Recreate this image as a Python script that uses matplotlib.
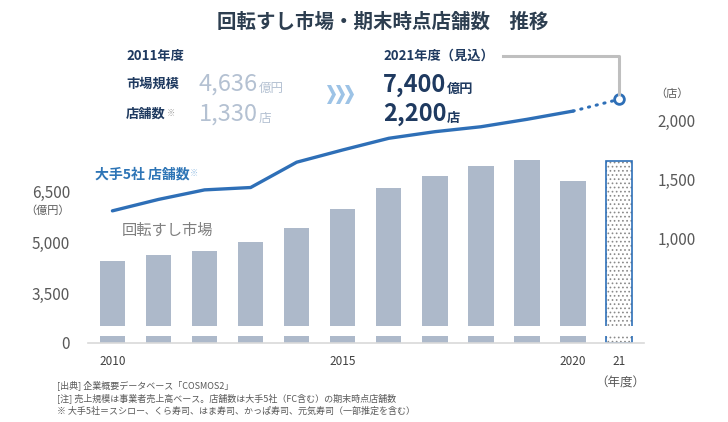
import numpy as np
import matplotlib
matplotlib.use('Agg')
import matplotlib.pyplot as plt
from matplotlib.patches import Polygon
from matplotlib.lines import Line2D

plt.rcParams['font.family'] = ['Noto Sans CJK JP', 'DejaVu Sans']
plt.rcParams['hatch.linewidth'] = 0.7

# data
years = [2010, 2011, 2012, 2013, 2014, 2015, 2016, 2017, 2018, 2019, 2020, 2021]
year_labels = ['2010', '', '', '', '', '2015', '', '', '', '', '2020', '21']
market = [4460, 4636, 4735, 5010, 5420, 5990, 6600, 6960, 7250, 7450, 6830, 7400]   # 億円
stores = [1233, 1330, 1411, 1431, 1646, 1750, 1849, 1905, 1947, 2010, 2080, 2180]   # 店
market_ticks = [3500, 5000, 6500]
store_ticks = [1000, 1500, 2000]

W, H = 728, 422


def fx(px):
    return px / W


def fy(py):
    return 1 - py / H


navy = '#1f3a60'
blue = '#2e6fb7'
bar_color = '#adb9ca'
tick_color = '#595959'

fig = plt.figure(figsize=(W / 100, H / 100), dpi=100)

# broken bar axis: main part + thin stub at zero
ax = fig.add_axes([fx(88), fy(326), (644 - 88) / W, (326 - 60) / H])
ax_low = fig.add_axes([fx(88), fy(342.5), (644 - 88) / W, 6.5 / H])
ax2 = ax.twinx()

x = np.arange(len(years))
bar_w = 0.55
for a in (ax, ax_low):
    a.bar(x[:-1], market[:-1], width=bar_w, color=bar_color)
    a.bar(x[-1], market[-1], width=bar_w, color='white', edgecolor='#8a8a8a',
          hatch='....', linewidth=0)
    a.bar(x[-1], market[-1], width=bar_w, fill=False, edgecolor=blue, linewidth=1.2)
    a.set_xlim(-0.53, 11.54)
    for s in a.spines.values():
        s.set_visible(False)

ax.set_ylim(2534, 10389)
ax.set_yticks(market_ticks)
ax.set_yticklabels([f'{v:,}' for v in market_ticks])
ax.set_xticks([])
ax.tick_params(axis='y', length=0, pad=13, labelsize=11, labelcolor=tick_color)

ax_low.set_ylim(0, 200)
ax_low.set_yticks([0])
ax_low.set_yticklabels(['0'])
ax_low.set_xticks(x)
ax_low.set_xticklabels(year_labels)
ax_low.tick_params(axis='y', length=0, pad=13, labelsize=11, labelcolor=tick_color)
ax_low.tick_params(axis='x', length=0, pad=9, labelsize=8.5, labelcolor='#404040')
ax_low.spines['bottom'].set_visible(True)
ax_low.spines['bottom'].set_color('#d9d9d9')
ax_low.spines['bottom'].set_linewidth(1.2)

# store count line
ax2.plot(x[:-1], stores[:-1], color=blue, lw=2.4, solid_capstyle='round')
ax2.plot(x[-2:], stores[-2:], color=blue, lw=2.2, ls=(0, (0.4, 2.2)),
         dash_capstyle='round')
ax2.plot(x[-1], stores[-1], 'o', mfc='white', mec=blue, mew=2, ms=7)
ax2.set_ylim(255.5, 2513.6)
ax2.set_yticks(store_ticks)
ax2.set_yticklabels([f'{v:,}' for v in store_ticks])
ax2.tick_params(axis='y', length=0, pad=10, labelsize=11, labelcolor=tick_color)
for s in ax2.spines.values():
    s.set_visible(False)

# title
fig.text(fx(383), fy(22), '回転すし市場・期末時点店舗数　推移', ha='center', va='center',
         fontsize=14, fontweight='bold', color='#2d3e50')


def unit(parent, s, size, color, weight='normal', dx=0.5, dy=1):
    return fig.add_artist(matplotlib.text.Annotation(
        s, xy=(1, 0), xycoords=parent, xytext=(dx, dy), textcoords='offset points',
        ha='left', va='bottom', fontsize=size, color=color, fontweight=weight))


# 2011 block
fig.text(fx(126), fy(56), '2011年度', va='center', fontsize=9.5, fontweight='bold', color=navy)
fig.text(fx(126), fy(84), '市場規模', va='center', fontsize=9.5, fontweight='bold', color=navy)
t = fig.text(fx(126), fy(114), '店舗数', va='center', fontsize=9.5, fontweight='bold', color=navy)
unit(t, '※', 6, '#a0a0a0', dy=2)
t = fig.text(fx(199), fy(91), '4,636', va='baseline', fontsize=17, color='#b4c1d2')
unit(t, '億円', 9, '#b4c1d2')
t = fig.text(fx(199), fy(121), '1,330', va='baseline', fontsize=17, color='#b4c1d2')
unit(t, '店', 9, '#b4c1d2')

# chevrons
for x0 in (327, 336, 345):
    pts = [(x0, 85), (x0 + 4, 85), (x0 + 9, 94.5), (x0 + 4, 104), (x0, 104), (x0 + 5, 94.5)]
    fig.add_artist(Polygon([(fx(a), fy(b)) for a, b in pts], closed=True,
                           transform=fig.transFigure, color='#9dc3e6', lw=0))

# 2021 block
fig.text(fx(383), fy(56), '2021年度（見込）', va='center', fontsize=9.5, fontweight='bold', color=navy)
t = fig.text(fx(383), fy(92), '7,400', va='baseline', fontsize=17, fontweight='bold', color=navy)
unit(t, '億円', 9.5, navy, weight='bold')
t = fig.text(fx(383), fy(121), '2,200', va='baseline', fontsize=17, fontweight='bold', color=navy)
unit(t, '店', 9.5, navy, weight='bold')
fig.add_artist(Line2D([fx(503), fx(619), fx(619)], [fy(56), fy(56), fy(94)],
                      transform=fig.transFigure, color='#bfbfbf', lw=2.2))

# series labels
t = fig.text(fx(95), fy(175), '大手5社 店舗数', va='center', fontsize=10, fontweight='bold', color='#2e75b6')
unit(t, '※', 6, '#9dc3e6', dy=3)
fig.text(fx(122), fy(230), '回転すし市場', va='center', fontsize=11, color='#7f7f7f')

# axis units
fig.text(fx(48), fy(211), '（億円）', ha='center', va='center', fontsize=8, color=tick_color)
fig.text(fx(672), fy(94), '（店）', ha='center', va='center', fontsize=8, color=tick_color)
fig.text(fx(620), fy(383), '（年度）', ha='center', va='center', fontsize=9, color=tick_color)

# notes
notes = ['[出典] 企業概要データベース「COSMOS2」',
         '[注] 売上規模は事業者売上高ベース。店舗数は大手5社（FC含む）の期末時点店舗数',
         '※ 大手5社＝スシロー、くら寿司、はま寿司、かっぱ寿司、元気寿司（一部推定を含む）']
for i, n in enumerate(notes):
    fig.text(fx(57), fy(385 + 13 * i), n, va='center', fontsize=6.5, color=tick_color)

fig.savefig('out.png', dpi=100)
